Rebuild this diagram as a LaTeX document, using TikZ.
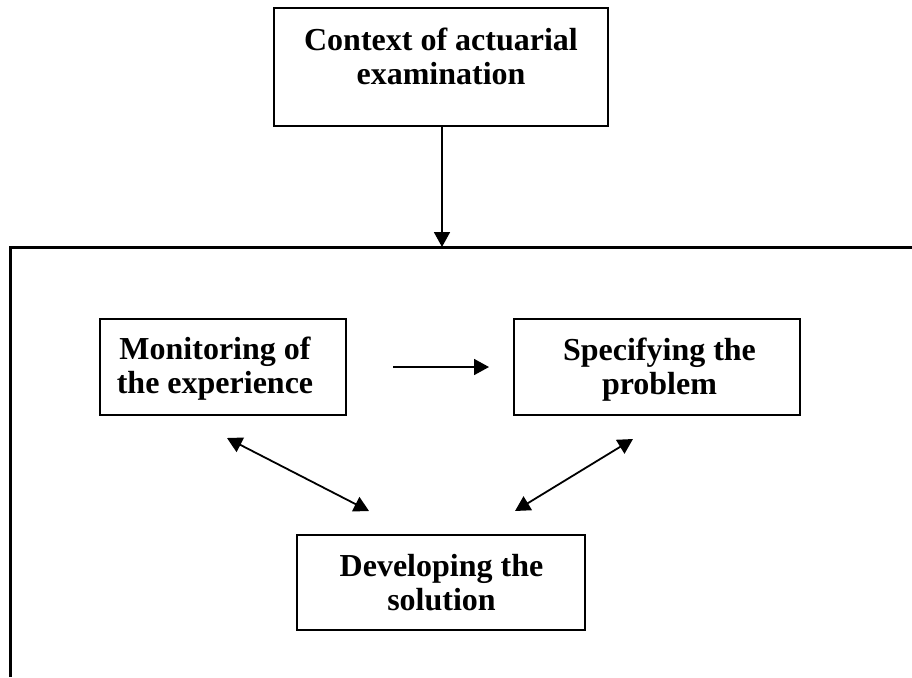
\documentclass[tikz,border=0pt]{standalone}
\usepackage{fontspec}
\setmainfont{Liberation Serif}
\usetikzlibrary{arrows.meta}
\tikzset{
  boxnode/.style={draw=black, line width=1pt, rectangle, inner sep=0pt},
  lbl/.style={align=center, inner sep=0pt, font=\bfseries\fontsize{16pt}{17pt}\selectfont},
  arr/.style={line width=0.9pt, -{Triangle[length=7.5pt,width=8pt]}},
  darr/.style={line width=0.9pt, {Triangle[length=7.5pt,width=8pt]}-{Triangle[length=7.5pt,width=8pt]}},
  frame/.style={line width=1.5pt}
}
\begin{document}
\begin{tikzpicture}[x=0.5pt,y=-0.5pt]
\useasboundingbox (0,0) rectangle (912,677);
% outer frame (cropped)
\coordinate (fbl) at (10,677);
\coordinate (ftl) at (10,247);
\coordinate (ftr) at (912,247);
\draw[frame] (fbl) -- (ftl) -- (ftr);
% boxes
\node[boxnode, minimum width=167pt, minimum height=59pt] (ctx) at (441,67) {};
\node[lbl] (ctxt) at (441,56) {Context of actuarial\\examination};
\node[boxnode, minimum width=123pt, minimum height=48pt] (mon) at (223,367) {};
\node[lbl] (mont) at (215,369) {Monitoring of\\the experience};
\node[boxnode, minimum width=143pt, minimum height=48pt] (spec) at (657,367) {};
\node[lbl] (spect) at (659.5,369.5) {Specifying the\\problem};
\node[boxnode, minimum width=144pt, minimum height=47.5pt] (dev) at (441,582.5) {};
\node[lbl] (devt) at (441.5,583) {Developing the\\solution};
% connectors
\coordinate (ctop) at (442,247);
\draw[arr] (ctx.south -| ctop) -- (ctop);
\coordinate (h1) at (393,367);
\coordinate (h2) at (489,367);
\draw[arr] (h1) -- (h2);
\coordinate (d1a) at (227,438);
\coordinate (d1b) at (369,511);
\draw[darr] (d1a) -- (d1b);
\coordinate (d2a) at (633,439);
\coordinate (d2b) at (515,511);
\draw[darr] (d2a) -- (d2b);
\end{tikzpicture}
\end{document}
